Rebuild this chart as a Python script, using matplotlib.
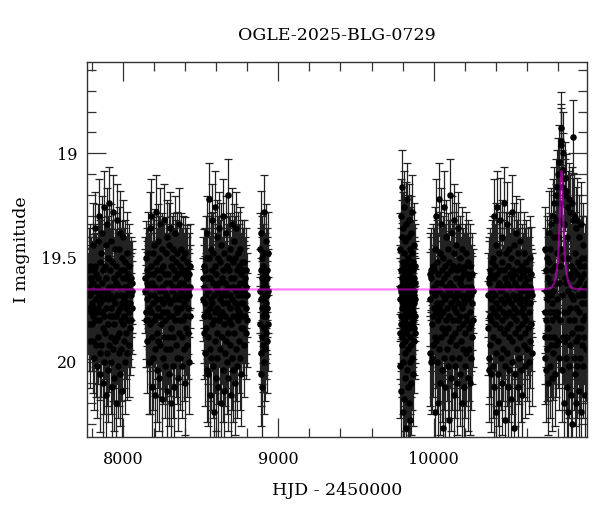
import matplotlib
matplotlib.use('Agg')
import matplotlib.pyplot as plt
import numpy as np
from matplotlib.ticker import MultipleLocator, FormatStrFormatter

# observing seasons, HJD - 2450000 (start, end)
SEASON_START = [7777, 8143, 8516, 8882, 9782, 9975, 10348, 10712]
SEASON_END = [8060, 8433, 8799, 8934, 9880, 10251, 10631, 10982]

# photometry, one 3-digit token per point:
# first two digits -> I = 18.80 + 0.02*code, last digit -> err = 0.10 + 0.025*d
SEASON_PHOT = [
    # 1
    "444 475 384 515 424 404 555 445 374 485 404 434 515 414 465 "
    "494 324 556 414 383 474 596 434 374 505 283 454 566 394 485 "
    "424 616 313 474 545 404 253 504 444 637 364 465 585 343 434 "
    "566 293 485 414 657 383 525 454 233 494 606 374 444 535 323 "
    "475 687 403 435 586 273 514 455 626 354 424 565 223 494 445 "
    "384 606 475 313 545 424 667 364 495 243 454 576 404 515 646 "
    "333 465 555 414 707 373 494 263 545 444 616 394 485 334 586 "
    "424 535 294 474 636 384 505 444 576 353 464 677 404 515 303 "
    "454 555 384 495 424 606 364 475 444 535 404 585 344 465 424 "
    "505 394 566 434 374 485 525 414 465 404 505 444 414 475 434",
    # 2
    "434 404 505 353 485 414 556 384 455 424 505 344 606 474 394 "
    "283 515 444 606 374 485 253 545 414 666 343 464 596 394 505 "
    "444 323 575 424 687 364 495 243 535 454 626 384 474 313 555 "
    "404 646 354 494 434 566 273 454 515 384 697 424 333 485 595 "
    "374 464 546 263 434 616 394 505 445 343 576 414 677 303 485 "
    "545 394 454 636 324 495 414 575 283 464 525 374 707 434 354 "
    "495 424 616 333 545 454 384 666 404 505 293 475 566 364 444 "
    "595 344 485 424 646 394 535 273 455 505 374 596 414 333 475 "
    "434 545 384 616 444 354 505 414 576 394 464 656 343 495 424 "
    "384 525 454 404 566 363 475 434 535 394 606 444 374 495 424",
    # 3
    "454 404 535 373 495 424 586 384 465 354 525 444 626 404 485 "
    "293 545 434 636 354 495 213 475 576 404 687 333 455 596 384 "
    "515 263 464 414 616 344 505 444 727 374 485 233 556 424 646 "
    "394 535 303 474 595 434 354 666 414 505 283 455 576 364 495 "
    "444 707 324 485 545 404 626 253 464 384 515 677 343 434 586 "
    "414 495 293 555 444 606 374 465 203 535 424 646 354 505 384 "
    "475 566 333 445 687 404 515 273 454 596 364 494 424 626 313 "
    "535 404 465 656 354 495 434 576 283 474 384 616 444 344 505 "
    "424 556 374 484 414 596 334 465 525 394 636 444 364 495 434 "
    "465 384 525 414 566 364 445 495 404 535 424 384 475 444 505",
    # 4
    "434 515 333 586 454 384 636 294 475 545 404 666 354 495 424 "
    "565 374 455 243 525 414 606 344 485 444 576 394 465 313 535 "
    "424 495 384 556 444 404 475 344 515 434",
    # 5
    "424 535 333 616 454 253 495 384 676 434 515 303 566 404 475 "
    "183 545 444 727 364 495 414 606 283 464 525 374 697 434 344 "
    "505 233 465 586 394 646 424 314 555 454 404 767 364 485 274 "
    "535 444 626 384 475 213 515 434 666 354 495 414 576 304 455 "
    "707 394 525 444 263 485 606 374 465 545 334 434 747 404 495 "
    "293 566 424 384 656 454 515 344 475 243 596 414 505 364 445 "
    "636 384 485 434 556 324 465 404 525 444 374 495 414 535 454",
    # 6
    "455 394 586 404 606 384 515 434 596 374 495 434 566 424 475 "
    "384 545 444 727 334 485 253 555 414 606 364 465 707 394 505 "
    "213 474 576 434 656 344 495 414 545 273 464 626 384 525 444 "
    "767 354 485 404 596 233 455 535 374 666 424 303 505 444 576 "
    "394 475 616 333 525 434 747 364 495 203 555 414 646 384 465 "
    "545 293 444 596 374 505 424 687 344 475 263 535 454 616 404 "
    "485 324 566 434 384 656 465 505 283 445 596 374 525 414 636 "
    "354 495 444 555 404 707 334 475 424 576 384 515 454 666 394 "
    "465 535 374 616 444 495 344 586 424 505 394 646 454 364 525 "
    "434 576 404 485 656 374 515 444 596 424 545 394 465 505 434",
    # 7
    "525 444 595 404 626 414 495 384 566 454 637 394 505 364 475 "
    "434 616 354 545 253 485 404 666 374 515 444 727 324 465 586 "
    "394 495 233 555 424 636 344 475 414 707 384 525 264 455 596 "
    "434 505 364 656 303 485 424 576 384 535 223 465 616 404 747 "
    "344 495 444 586 274 525 414 666 374 455 545 333 485 626 394 "
    "515 424 697 354 465 243 555 404 606 384 495 444 767 324 475 "
    "535 394 636 414 505 293 454 576 364 485 424 666 344 525 444 "
    "595 384 465 404 545 314 485 626 434 374 515 454 687 394 475 "
    "424 566 344 495 414 616 384 535 454 364 505 434 576 404 465 "
    "384 525 444 606 404 485 354 555 424 464 395 515 434 586 444",
    # 8 (event season)
    "484 595 334 545 434 626 384 505 455 354 576 444 656 404 525 "
    "364 545 294 485 616 414 333 566 444 273 505 646 384 465 253 "
    "434 585 304 485 223 545 374 636 414 263 495 203 566 344 454 "
    "183 485 304 555 153 414 263 596 123 374 223 505 083 334 043 "
    "073 445 183 626 104 354 545 143 485 273 707 163 404 555 203 "
    "414 596 193 485 666 304 545 233 434 727 354 505 213 616 394 "
    "475 243 566 374 687 444 223 535 404 757 063 455 264 596 384 "
    "505 254 636 424 344 555 284 474 707 394 525 264 616 444 364 "
    "545 414 676 304 485 374 596 444 274 525 404 727 354 465 566 "
    "434 505 324 616 394 545 444 686 374 495 424 576 354 465 414",
]

# point-lens model curve
MODEL_T = [7770, 10671, 10711, 10736, 10754, 10766, 10776, 10784, 10791, 10797, 10802, 10807, 10810,
           10813, 10815, 10817, 10819, 10821, 10823, 10825, 10827, 10829, 10832, 10835, 10840, 10845,
           10851, 10858, 10866, 10876, 10888, 10906, 10931, 10971, 10990]
MODEL_MAG = [19.653, 19.653, 19.652, 19.650, 19.645, 19.635, 19.62, 19.595, 19.56, 19.52, 19.46, 19.37,
             19.30, 19.235, 19.19, 19.14, 19.10, 19.085, 19.10, 19.14, 19.19, 19.235, 19.30, 19.37, 19.46,
             19.52, 19.56, 19.595, 19.62, 19.635, 19.645, 19.650, 19.652, 19.653, 19.653]

TITLE = 'OGLE-2025-BLG-0729'
XLABEL = 'HJD - 2450000'
YLABEL = 'I magnitude'


def season_arrays(start, end, phot):
    toks = phot.split()
    mag = 18.80 + 0.02 * np.array([int(k[:2]) for k in toks])
    err = 0.10 + 0.025 * np.array([int(k[2]) for k in toks])
    t = np.linspace(start, end, len(toks))
    return t, mag, err


t_all, m_all, e_all = [], [], []
for s, e, phot in zip(SEASON_START, SEASON_END, SEASON_PHOT):
    t, m, err = season_arrays(s, e, phot)
    t_all.append(t)
    m_all.append(m)
    e_all.append(err)
t_all = np.concatenate(t_all)
m_all = np.concatenate(m_all)
e_all = np.concatenate(e_all)

plt.rcParams['font.family'] = ['DejaVu Serif']

fig = plt.figure(figsize=(6, 5.12), dpi=100)
ax = fig.add_axes([0.145, 0.1465, 0.8333, 0.7324])

ax.errorbar(t_all, m_all, yerr=e_all, fmt='o', color='black', ms=3.7,
            ecolor='#222222', elinewidth=0.9, capsize=2.6, capthick=0.9, zorder=2)
ax.plot(MODEL_T, MODEL_MAG, color='magenta', alpha=0.5, lw=1.6, zorder=3)

ax.set_xlim(7770, 10985)
ax.set_ylim(20.361, 18.562)

ax.xaxis.set_major_locator(MultipleLocator(1000))
ax.xaxis.set_minor_locator(MultipleLocator(200))
ax.yaxis.set_major_locator(MultipleLocator(0.5))
ax.yaxis.set_minor_locator(MultipleLocator(0.1))
ax.yaxis.set_major_formatter(FormatStrFormatter('%g'))

ax.tick_params(which='both', direction='in', top=True, right=True, color='#333333', width=0.9)
ax.tick_params(which='major', length=14)
ax.tick_params(which='minor', length=6.5)
ax.tick_params(axis='x', labelsize=11.5, pad=10)
ax.tick_params(axis='y', labelsize=11.5, pad=7)
for sp in ax.spines.values():
    sp.set_color('#333333')
    sp.set_linewidth(1.0)

ax.set_title(TITLE, fontsize=12.5, pad=16)
ax.set_xlabel(XLABEL, fontsize=12.5, labelpad=10)
ax.set_ylabel(YLABEL, fontsize=12.5, labelpad=8)

fig.savefig('out.png', dpi=100)
